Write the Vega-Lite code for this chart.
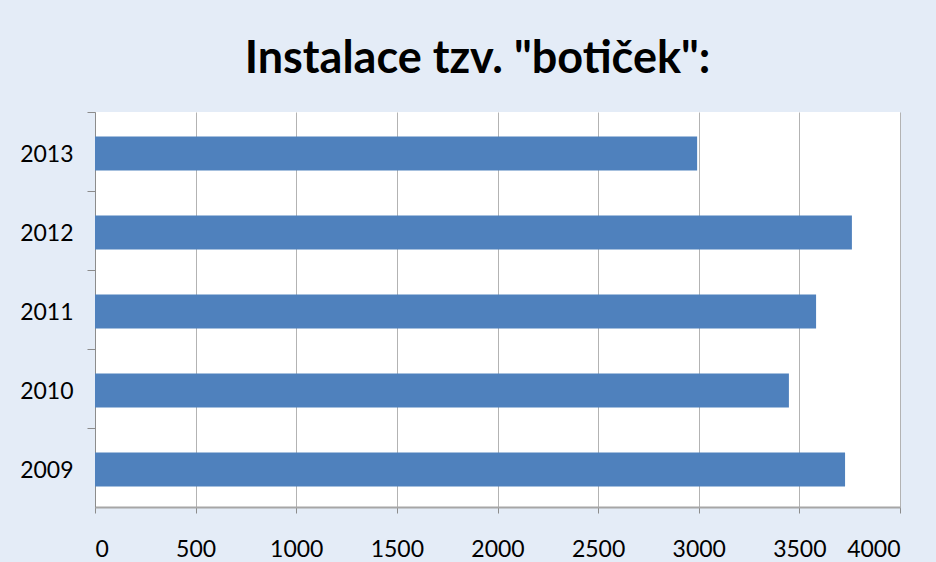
{
  "$schema": "https://vega.github.io/schema/vega-lite/v6.json",
  "width": 805,
  "height": 395,
  "autosize": {"type": "none"},
  "padding": {"left": 95, "top": 112, "right": 36, "bottom": 55},
  "background": "#e4ecf7",
  "title": {
    "text": "Instalace tzv. \"botiček\":",
    "font": "Lato",
    "fontSize": 45,
    "fontWeight": "bold",
    "color": "#000000",
    "anchor": "middle",
    "dx": -20,
    "offset": 30
  },
  "data": {
    "values": [
      {"rok": "2009", "pocet": 3727},
      {"rok": "2010", "pocet": 3448},
      {"rok": "2011", "pocet": 3583},
      {"rok": "2012", "pocet": 3761},
      {"rok": "2013", "pocet": 2992}
    ]
  },
  "mark": {"type": "bar", "color": "#4f81bd", "height": {"band": 0.43}, "yOffset": 2},
  "encoding": {
    "y": {
      "field": "rok",
      "type": "ordinal",
      "sort": "descending",
      "scale": {"paddingInner": 0, "paddingOuter": 0},
      "axis": {
        "title": null,
        "bandPosition": 0,
        "tickSize": 8,
        "tickColor": "#8c8c8c",
        "domainColor": "#8c8c8c",
        "labelFont": "Lato",
        "labelFontSize": 23,
        "labelColor": "#000000",
        "labelPadding": 14,
        "labelOffset": 3,
        "grid": false
      }
    },
    "x": {
      "field": "pocet",
      "type": "quantitative",
      "scale": {"domain": [0, 4000], "nice": false},
      "axis": {
        "title": null,
        "values": [0, 500, 1000, 1500, 2000, 2500, 3000, 3500, 4000],
        "format": "d",
        "tickSize": 6,
        "tickColor": "#8c8c8c",
        "domainColor": "#a6a6a6",
        "domainWidth": 2,
        "labelFont": "Lato",
        "labelFontSize": 23,
        "labelColor": "#000000",
        "labelPadding": 25,
        "grid": true,
        "gridColor": "#b3b3b3",
        "gridWidth": 1
      }
    }
  },
  "config": {
    "view": {"stroke": null, "fill": "#ffffff"}
  }
}
